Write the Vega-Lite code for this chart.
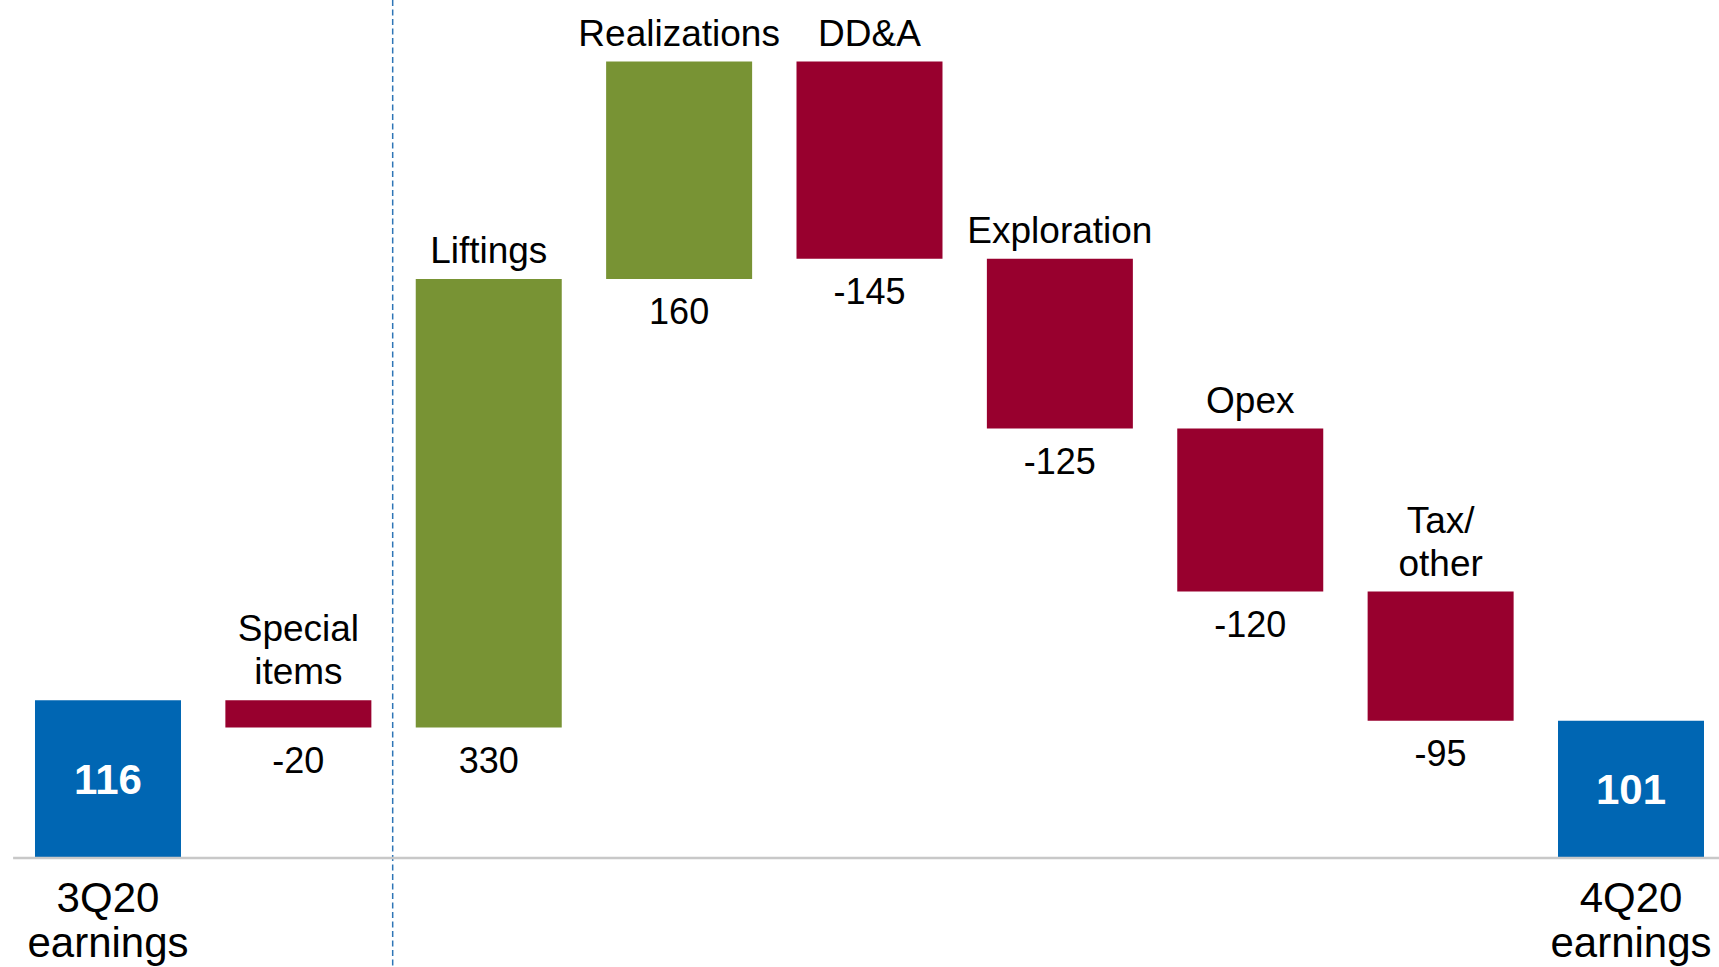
{
  "$schema": "https://vega.github.io/schema/vega-lite/v6.json",
  "width": 1719,
  "height": 967,
  "autosize": {"type": "none"},
  "padding": 0,
  "background": "white",
  "config": {"view": {"stroke": null}, "text": {"font": "Liberation Sans", "color": "black"}},
  "data": {
    "values": [
      {"cat": "3Q20 earnings", "label": "3Q20\nearnings", "l1": null, "l2": null, "value": 116, "lo": 0, "hi": 116, "kind": "total"},
      {"cat": "Special items", "label": "Special items", "l1": "Special", "l2": "items", "value": -20, "lo": 96, "hi": 116, "kind": "down"},
      {"cat": "Liftings", "label": "Liftings", "l1": null, "l2": "Liftings", "value": 330, "lo": 96, "hi": 426, "kind": "up"},
      {"cat": "Realizations", "label": "Realizations", "l1": null, "l2": "Realizations", "value": 160, "lo": 426, "hi": 586, "kind": "up"},
      {"cat": "DD&A", "label": "DD&A", "l1": null, "l2": "DD&A", "value": -145, "lo": 441, "hi": 586, "kind": "down"},
      {"cat": "Exploration", "label": "Exploration", "l1": null, "l2": "Exploration", "value": -125, "lo": 316, "hi": 441, "kind": "down"},
      {"cat": "Opex", "label": "Opex", "l1": null, "l2": "Opex", "value": -120, "lo": 196, "hi": 316, "kind": "down"},
      {"cat": "Tax/other", "label": "Tax/other", "l1": "Tax/", "l2": "other", "value": -95, "lo": 101, "hi": 196, "kind": "down"},
      {"cat": "4Q20 earnings", "label": "4Q20\nearnings", "l1": null, "l2": null, "value": 101, "lo": 0, "hi": 101, "kind": "total"}
    ]
  },
  "encoding": {
    "x": {
      "field": "cat",
      "type": "nominal",
      "sort": null,
      "axis": null,
      "scale": {"paddingInner": 0.2331, "paddingOuter": 0.1313, "align": 0.7}
    }
  },
  "layer": [
    {
      "mark": {"type": "bar"},
      "encoding": {
        "y": {"field": "lo", "type": "quantitative", "scale": {"domain": [-80.2, 631.3], "nice": false, "zero": false}, "axis": null},
        "y2": {"field": "hi"},
        "color": {
          "field": "kind",
          "type": "nominal",
          "scale": {"domain": ["total", "up", "down"], "range": ["#0066B3", "#789334", "#98002E"]},
          "legend": null
        }
      }
    },
    {
      "data": {"values": [{}]},
      "mark": {"type": "rule", "stroke": "#2E75B6", "strokeWidth": 1.5, "strokeDash": [6, 3.5]},
      "encoding": {"x": {"datum": "Special items", "bandPosition": 1.146}}
    },
    {
      "data": {"values": [{}]},
      "mark": {"type": "rule", "stroke": "#c8c8c8", "strokeWidth": 2.5},
      "encoding": {
        "y": {"datum": 0, "type": "quantitative"},
        "x": {"datum": "3Q20 earnings", "bandPosition": -0.15},
        "x2": {"datum": "4Q20 earnings", "bandPosition": 1.11}
      }
    },
    {
      "transform": [{"filter": "datum.l2 != null"}],
      "mark": {"type": "text", "fontSize": 37, "baseline": "alphabetic", "dy": -16},
      "encoding": {
        "y": {"field": "hi", "type": "quantitative"},
        "text": {"field": "l2", "type": "nominal"}
      }
    },
    {
      "transform": [{"filter": "datum.l1 != null"}],
      "mark": {"type": "text", "fontSize": 37, "baseline": "alphabetic", "dy": -59},
      "encoding": {
        "y": {"field": "hi", "type": "quantitative"},
        "text": {"field": "l1", "type": "nominal"}
      }
    },
    {
      "transform": [{"filter": "datum.kind !== 'total'"}],
      "mark": {"type": "text", "fontSize": 36, "baseline": "alphabetic", "dy": 45},
      "encoding": {
        "y": {"field": "lo", "type": "quantitative"},
        "text": {"field": "value", "type": "nominal"}
      }
    },
    {
      "transform": [
        {"filter": "datum.kind === 'total'"},
        {"fold": ["lo", "hi"], "as": ["end", "level"]},
        {"aggregate": [{"op": "mean", "field": "level", "as": "mid"}], "groupby": ["cat", "value"]}
      ],
      "mark": {"type": "text", "fontSize": 42, "fontWeight": "bold", "color": "white", "baseline": "middle", "dy": 2},
      "encoding": {
        "y": {"field": "mid", "type": "quantitative"},
        "text": {"field": "value", "type": "nominal"}
      }
    },
    {
      "transform": [{"filter": "datum.kind === 'total'"}],
      "mark": {"type": "text", "fontSize": 42, "baseline": "alphabetic", "dy": 54, "lineBreak": "\n", "lineHeight": 45},
      "encoding": {
        "y": {"datum": 0, "type": "quantitative"},
        "text": {"field": "label", "type": "nominal"}
      }
    }
  ]
}
